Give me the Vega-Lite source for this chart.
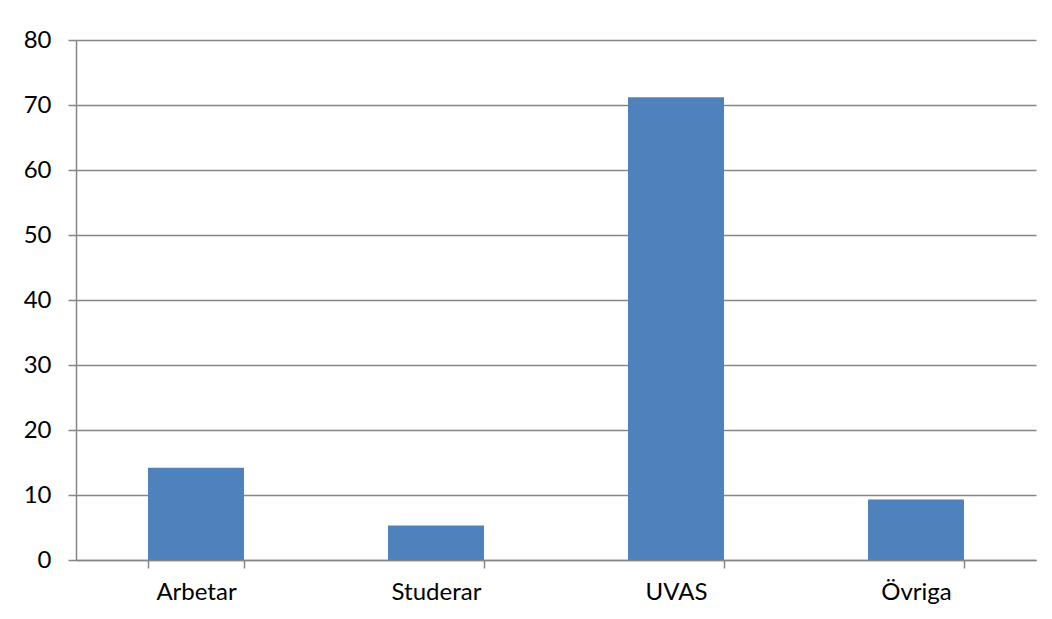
{
  "$schema": "https://vega.github.io/schema/vega-lite/v6.json",
  "autosize": {"type": "none"},
  "width": 960,
  "height": 520,
  "padding": {"left": 76, "top": 40, "right": 16, "bottom": 59},
  "background": "white",
  "config": {
    "view": {"stroke": null},
    "font": "Lato",
    "axis": {
      "labelFont": "Lato",
      "labelFontSize": 24,
      "labelColor": "#000000",
      "domainColor": "#868686",
      "domainWidth": 1.5,
      "tickColor": "#868686",
      "tickWidth": 1.5,
      "tickSize": 8,
      "gridColor": "#868686",
      "gridWidth": 1.5,
      "title": null
    }
  },
  "data": {
    "values": [
      {"category": "Arbetar", "value": 14.2},
      {"category": "Studerar", "value": 5.3},
      {"category": "UVAS", "value": 71.2},
      {"category": "Övriga", "value": 9.3}
    ]
  },
  "mark": {"type": "bar", "color": "#4F81BD"},
  "encoding": {
    "x": {
      "field": "category",
      "type": "nominal",
      "sort": null,
      "scale": {"paddingInner": 0.6, "paddingOuter": 0.3},
      "axis": {"labelAngle": 0, "tickBand": "extent", "labelPadding": 12, "grid": false}
    },
    "y": {
      "field": "value",
      "type": "quantitative",
      "scale": {"domain": [0, 80], "nice": false},
      "axis": {"values": [0, 10, 20, 30, 40, 50, 60, 70, 80], "grid": true, "labelPadding": 17}
    }
  }
}
